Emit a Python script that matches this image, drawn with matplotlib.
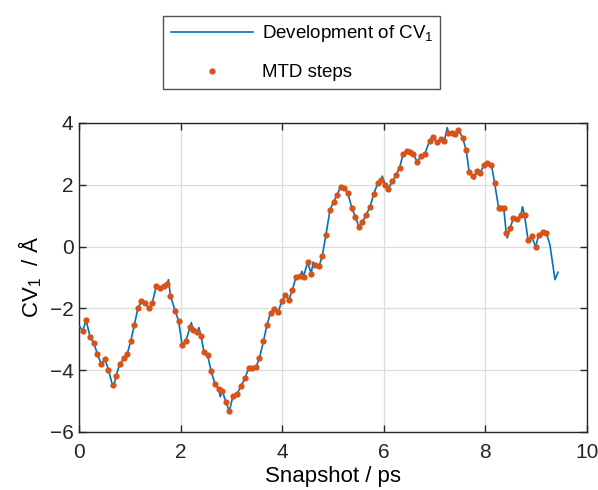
import matplotlib
matplotlib.use("Agg")
import matplotlib.pyplot as plt
from matplotlib.lines import Line2D

plt.rcParams['font.family'] = ['Liberation Sans', 'DejaVu Sans']
plt.rcParams['mathtext.fontset'] = 'custom'
plt.rcParams['mathtext.rm'] = 'Liberation Sans'
plt.rcParams['mathtext.it'] = 'Liberation Sans'

# MTD steps (markers), time in ps and CV1 in Angstrom
mtd_t = [0.07, 0.14, 0.22, 0.29, 0.36, 0.44, 0.51, 0.58, 0.66, 0.73,
         0.80, 0.88, 0.95, 1.02, 1.09, 1.16, 1.23, 1.30, 1.37, 1.44,
         1.52, 1.60, 1.67, 1.73, 1.80, 1.89, 1.96, 2.03, 2.10, 2.19,
         2.25, 2.32, 2.40, 2.46, 2.53, 2.60, 2.68, 2.75, 2.82, 2.89,
         2.96, 3.03, 3.11, 3.19, 3.27, 3.34, 3.41, 3.48, 3.55, 3.63,
         3.70, 3.77, 3.84, 3.92, 3.99, 4.06, 4.13, 4.20, 4.27, 4.35,
         4.42, 4.50, 4.57, 4.65, 4.73, 4.79, 4.86, 4.94, 5.01, 5.08,
         5.15, 5.22, 5.29, 5.37, 5.44, 5.51, 5.58, 5.65, 5.73, 5.80,
         5.88, 5.95, 6.03, 6.09, 6.17, 6.24, 6.31, 6.38, 6.45, 6.51,
         6.58, 6.66, 6.73, 6.81, 6.90, 6.96, 7.04, 7.12, 7.19, 7.27,
         7.34, 7.40, 7.47, 7.55, 7.62, 7.68, 7.76, 7.83, 7.90, 7.97,
         8.04, 8.12, 8.18, 8.26, 8.31, 8.36, 8.41, 8.49, 8.55, 8.63,
         8.70, 8.77, 8.84, 8.91, 8.99, 9.05, 9.13, 9.20]
mtd_cv = [-2.73, -2.39, -2.93, -3.11, -3.47, -3.81, -3.63, -3.99, -4.49, -4.18,
          -3.81, -3.62, -3.47, -3.05, -2.53, -1.99, -1.77, -1.83, -1.99, -1.83,
          -1.29, -1.34, -1.26, -1.22, -1.59, -2.07, -2.40, -3.18, -3.07, -2.59,
          -2.69, -2.77, -2.88, -3.40, -3.51, -4.02, -4.46, -4.62, -4.67, -5.02,
          -5.33, -4.84, -4.77, -4.51, -4.26, -3.92, -3.94, -3.91, -3.62, -3.07,
          -2.53, -2.15, -2.02, -2.13, -1.77, -1.56, -1.72, -1.42, -0.98, -0.96,
          -0.98, -0.50, -0.88, -0.58, -0.62, -0.29, 0.37, 1.18, 1.45, 1.67,
          1.94, 1.90, 1.74, 1.26, 0.96, 0.64, 0.80, 1.02, 1.29, 1.69,
          2.05, 2.14, 1.98, 1.87, 2.12, 2.31, 2.55, 2.99, 3.09, 3.07,
          2.99, 2.74, 2.93, 3.01, 3.42, 3.56, 3.37, 3.47, 3.42, 3.69,
          3.67, 3.64, 3.77, 3.53, 3.13, 2.43, 2.28, 2.44, 2.39, 2.64,
          2.72, 2.64, 2.07, 1.26, 1.26, 1.26, 0.44, 0.61, 0.93, 0.90,
          1.02, 1.02, 0.21, 0.33, -0.01, 0.39, 0.46, 0.44]

# intermediate points of the CV trace between MTD steps
extra_t = [0.02, 0.10, 0.68, 1.76, 2.21, 2.36, 2.78, 4.39, 4.61, 5.97,
           7.25, 7.78, 8.43, 8.73, 9.27, 9.37, 9.43]
extra_cv = [-2.60, -2.58, -4.55, -1.07, -2.46, -2.62, -4.86, -0.80, -0.50, 2.28,
            3.85, 2.18, 0.28, 1.29, 0.06, -1.07, -0.83]

trace = sorted(zip(mtd_t + extra_t, mtd_cv + extra_cv))
cv_t = [p[0] for p in trace]
cv_vals = [p[1] for p in trace]

blue = '#0072BD'
orange = '#D95319'

fig = plt.figure(figsize=(5.98, 4.90), dpi=100)
ax = fig.add_axes([0.1321, 0.1184, 0.8495, 0.6306])

ax.plot(cv_t, cv_vals, color=blue, lw=1.2, zorder=3)
ax.plot(mtd_t, mtd_cv, 'o', color=orange, ms=4.5, mew=0, zorder=4)

ax.set_xlim(0, 10)
ax.set_ylim(-6, 4)
ax.set_xticks([0, 2, 4, 6, 8, 10])
ax.set_yticks([-6, -4, -2, 0, 2, 4])
ax.grid(True, color='#dcdcdc', lw=0.9)
ax.set_axisbelow(True)
for s in ax.spines.values():
    s.set_color('#262626')
    s.set_linewidth(1.0)
ax.tick_params(direction='in', length=5, width=1.0, top=True, right=True,
               labelsize=15, colors='#262626')
ax.tick_params(axis='x', pad=8)
ax.tick_params(axis='y', pad=4)
ax.set_xlabel('Snapshot / ps', fontsize=16, labelpad=3)
ax.set_ylabel('CV$_1$  / Å', fontsize=16, labelpad=4)

handles = [Line2D([], [], color=blue, lw=1.2),
           Line2D([], [], ls='none', marker='o', color=orange, ms=4.5, mew=0)]
leg = fig.legend(handles, ['Development of CV$_1$', 'MTD steps'],
                 bbox_to_anchor=(0.2726, 0.818, 0.4632, 0.151), loc='center',
                 mode='expand', fontsize=13.5, frameon=True, fancybox=False,
                 edgecolor='#262626', handlelength=4.4, handletextpad=0.5,
                 labelspacing=1.05, borderpad=0.4, borderaxespad=0)
leg.get_frame().set_linewidth(1.0)

fig.savefig('out.png', dpi=100)
